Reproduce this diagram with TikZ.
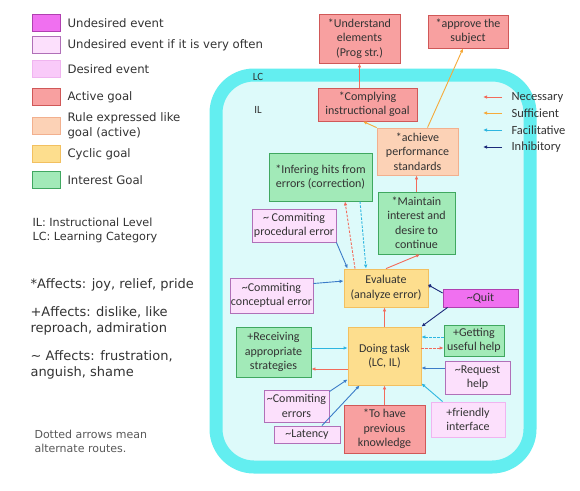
\documentclass[tikz,border=0pt]{standalone}
\usepackage{fontspec}
\setmainfont{DejaVu Sans}
\newfontfamily\boxfont{Carlito}
\usetikzlibrary{arrows.meta}

\definecolor{txt}{HTML}{333333}
\definecolor{lcband}{HTML}{63EEF0}
\definecolor{lcfill}{HTML}{DDFAFA}
\definecolor{undesfill}{HTML}{F070F0}
\definecolor{undesline}{HTML}{B040B0}
\definecolor{oftenfill}{HTML}{FCE0FC}
\definecolor{oftenline}{HTML}{B070B8}
\definecolor{desfill}{HTML}{F9CAF9}
\definecolor{desline}{HTML}{F0B4F0}
\definecolor{actfill}{HTML}{F8A0A0}
\definecolor{actline}{HTML}{D05858}
\definecolor{rulefill}{HTML}{FCD2B6}
\definecolor{ruleline}{HTML}{F2B08E}
\definecolor{cycfill}{HTML}{FDDE8E}
\definecolor{cycline}{HTML}{F2C060}
\definecolor{intfill}{HTML}{A2EAB8}
\definecolor{intline}{HTML}{40A860}
\definecolor{neccol}{HTML}{F26B5B}
\definecolor{sufcol}{HTML}{F6AA3A}
\definecolor{faccol}{HTML}{2EB6E0}
\definecolor{inhcol}{HTML}{1C2A7A}
\definecolor{errcol}{HTML}{3C7CC8}

\begin{document}
\begin{tikzpicture}[x=1pt,y=-1pt,
    box/.style={draw,line width=0.8pt,align=center,inner sep=1pt,text=txt,
        font=\boxfont\fontsize{12}{14.5}\selectfont},
    undes/.style={fill=undesfill,draw=undesline},
    often/.style={fill=oftenfill,draw=oftenline},
    des/.style={fill=desfill,draw=desline},
    active/.style={fill=actfill,draw=actline},
    rule/.style={fill=rulefill,draw=ruleline},
    cyclic/.style={fill=cycfill,draw=cycline},
    interest/.style={fill=intfill,draw=intline},
    link/.style={line width=0.9pt,-{Latex[length=4pt,width=3.5pt]}},
    nec/.style={link,draw=neccol},
    suf/.style={link,draw=sufcol},
    fac/.style={link,draw=faccol},
    inh/.style={link,draw=inhcol},
    err/.style={link,draw=errcol},
    alt/.style={dash pattern=on 2.5pt off 1.5pt}]
    \fill[white] (0,0) rectangle (580,490);
    \foreach \y/\s/\t in {23/undes/Undesired event, 45/often/Undesired event if it is very often,
        69/des/Desired event, 97/active/Active goal, 126/rule/{Rule expressed like\\goal (active)},
        154/cyclic/Cyclic goal, 180/interest/Interest Goal} {
        \node[draw,line width=0.8pt,\s,minimum width=28,minimum height=17] at (46,\y) {};
        \node[anchor=west,align=left,text=txt,font=\fontsize{11.7}{15}\selectfont] at (64,\y) {\t};
    }
    \node[anchor=north west,align=left,text=txt,font=\fontsize{11.2}{14}\selectfont] (abbr) at (29,214)
        {IL: Instructional Level\\LC: Learning Category};
    \node[anchor=north west,align=left,text=txt,font=\fontsize{13}{16}\selectfont] (affects) at (27,275)
        {*Affects: joy, relief, pride\\[12pt]+Affects: dislike, like\\reproach, admiration\\[12pt]\textasciitilde\ Affects: frustration,\\anguish, shame};
    \node[anchor=north west,align=left,text=black!65,font=\fontsize{11}{14}\selectfont] (dotted) at (31,427)
        {Dotted arrows mean\\alternate routes.};
    \draw[line width=13pt,draw=lcband,fill=lcfill,rounded corners=38pt] (216,75) rectangle (530,467);
    \node[text=txt,font=\boxfont\fontsize{11}{13}\selectfont] (lc) at (258,77) {LC};
    \node[text=txt,font=\boxfont\fontsize{11}{13}\selectfont] (il) at (258,110) {IL};
    \foreach \y/\s/\t in {97/nec/Necessary, 113/suf/Sufficient, 130/fac/Facilitative, 147/inh/Inhibitory} {
        \node[anchor=west,text=txt,font=\boxfont\fontsize{12.5}{14}\selectfont] (key\s) at (508,\y) {\t};
        \draw[\s] ([xshift=-6pt]key\s.west) -- ++(-19,0);
    }
    \node[box,active,minimum width=81,minimum height=49] (und) at (359.5,38.5) {*Understand\\elements\\(Prog str.)};
    \node[box,active,minimum width=80,minimum height=33] (appr) at (468,31.5) {*approve the\\subject};
    \node[box,active,minimum width=99,minimum height=33] (comp) at (367.5,104.5) {*Complying\\instructional goal};
    \node[box,rule,minimum width=81,minimum height=47] (ach) at (417.5,151.5) {*achieve\\performance\\standards};
    \node[box,interest,minimum width=103,minimum height=48] (inf) at (320.5,177) {*Infering hits from\\errors (correction)};
    \node[box,interest,minimum width=77,minimum height=62] (mnt) at (416.5,223) {*Maintain\\interest and\\desire to\\continue};
    \node[box,often,minimum width=84,minimum height=33] (proc) at (294,225.5) {\textasciitilde\ Commiting\\procedural error};
    \node[box,cyclic,minimum width=84,minimum height=38] (eval) at (386,288) {Evaluate\\(analyze error)};
    \node[box,often,minimum width=83,minimum height=35] (conc) at (271.5,295.5) {\textasciitilde Commiting\\conceptual error};
    \node[box,undes,minimum width=75,minimum height=18] (quit) at (480.5,298) {\textasciitilde Quit};
    \node[box,cyclic,minimum width=73,minimum height=58] (doing) at (384.5,356) {Doing task\\(LC, IL)};
    \node[box,interest,minimum width=75,minimum height=50] (recv) at (273.5,352) {+Receiving\\appropriate\\strategies};
    \node[box,interest,minimum width=60,minimum height=31] (help) at (474,340.5) {+Getting\\useful help};
    \node[box,often,minimum width=65,minimum height=33] (req) at (477.5,377.5) {\textasciitilde Request\\help};
    \node[box,des,fill=oftenfill,minimum width=74,minimum height=35] (friend) at (468,419.5) {+friendly\\interface};
    \node[box,often,minimum width=65,minimum height=32] (cerr) at (296.5,406) {\textasciitilde Commiting\\errors};
    \node[box,often,minimum width=66,minimum height=17] (lat) at (307,434.5) {\textasciitilde Latency};
    \node[box,active,minimum width=81,minimum height=48] (know) at (384.5,429) {*To have\\previous\\knowledge};
    \draw[nec] (und.south |- comp.north) -- (und.south);
    \draw[suf] ([xshift=10pt]ach.north) -- ([xshift=-5pt]appr.south);
    \draw[suf] (ach.north west) -- ([xshift=-4.5pt]comp.south);
    \draw[nec] (mnt.north) -- (mnt.north |- ach.south);
    \draw[nec,alt] ([xshift=-31pt]eval.north) -- ([xshift=24.5pt]inf.south);
    \draw[fac,alt] ([xshift=39.5pt]inf.south) -- ([xshift=-20pt]eval.north);
    \draw[nec] (eval.north) -- ([xshift=3.5pt]mnt.south);
    \draw[err] (proc.south east) -- ([xshift=4pt]eval.north west);
    \draw[err] ([yshift=12pt]conc.east) -- ([yshift=7pt]eval.west);
    \draw[inh,-{Circle[length=3.5pt]}] ([yshift=5pt]quit.west) -- ([yshift=3pt]eval.east);
    \draw[inh] ([xshift=5pt]quit.south west) -- (doing.north east);
    \draw[nec] (doing.north) -- (doing.north |- eval.south);
    \draw[fac] ([yshift=4pt]recv.east) -- ([yshift=8pt]doing.west);
    \draw[nec] ([yshift=-13pt]doing.west) -- ([yshift=-17pt]recv.east);
    \draw[fac,alt] ([yshift=3.5pt]help.west) -- ([yshift=19pt]doing.east);
    \draw[nec,alt] ([yshift=8pt]doing.east) -- ([yshift=-7.5pt]help.west);
    \draw[err] ([yshift=9.5pt]req.west) -- ([yshift=-12pt]doing.east);
    \draw[fac] ([xshift=12pt]friend.north west) -- ([yshift=2pt]doing.south east);
    \draw[nec] (know.north) -- (doing.south);
    \draw[err] ([yshift=-2pt]cerr.north east) -- ([yshift=6pt]doing.south west);
    \draw[err] ([xshift=15pt]lat.north) -- ([xshift=12pt]doing.south west);
\end{tikzpicture}
\end{document}
